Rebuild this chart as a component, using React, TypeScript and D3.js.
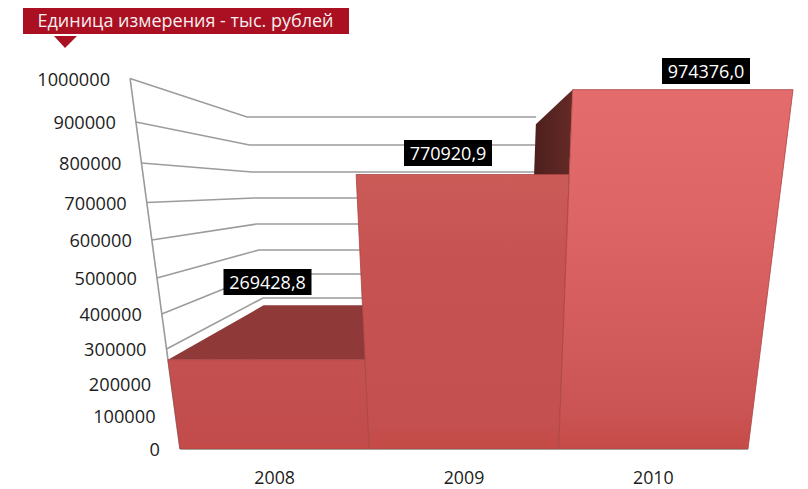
import React from "react";
import * as d3 from "d3";

const years = ["2008", "2009", "2010"];
const amounts = [269428.8, 770920.9, 974376.0];
const amountLabels = ["269428,8", "770920,9", "974376,0"];
const axisTicks = [0, 100000, 200000, 300000, 400000, 500000, 600000, 700000, 800000, 900000, 1000000];
const unitTitle = "Единица измерения - тыс. рублей";

const WIDTH = 808;
const HEIGHT = 489;
const FONT = "'Open Sans', sans-serif";

// Perspective projection: the front and back planes each have their own value scale.
const frontY = d3.scaleLinear().domain(axisTicks).range([449, 416, 384, 349, 314, 278, 240, 202.5, 163, 122, 78.5]);
const backY = d3.scaleLinear().domain(axisTicks).range([367, 345, 322, 298, 274, 250, 224, 198, 172, 145, 117]);

const frontLeft = d3.scaleLinear().domain([449, 78]).range([180, 130]);
const frontRight = d3.scaleLinear().domain([449, 90]).range([748, 793]);
const backLeft = d3.scaleLinear().domain([117, 298]).range([247, 263]);
const backRight = d3.scaleLinear().domain([124, 175]).range([680, 675]);

// x position of a category boundary (0..3) at a projected height on either plane.
const frontX = (slot: number, y: number) =>
  d3.scaleLinear().domain([0, 3]).range([frontLeft(y), frontRight(y)])(slot);
const backX = (slot: number, y: number) =>
  d3.scaleLinear().domain([0, 3]).range([backLeft(y), backRight(y)])(slot);

const front = (slot: number, v: number): [number, number] => [frontX(slot, frontY(v)), frontY(v)];
const back = (slot: number, v: number): [number, number] => [backX(slot, backY(v)), backY(v)];

const closed = d3.line().curve(d3.curveLinearClosed);
const open = d3.line();

const barFills = ["fill2008", "fill2009", "fill2010"];
const barStops: [string, string, string, string][] = [
  ["#c45050", "#c44f4f", "#c24c4c", "#c44a45"],
  ["#ca5b57", "#c65252", "#c45050", "#c44b45"],
  ["#e46c6c", "#de6565", "#ca5454", "#c64b47"],
];
const labelCentres: [number, number][] = [
  [267.5, 282],
  [448, 153],
  [706, 71],
];

export default function App() {
  const [v2008, v2009, v2010] = amounts;
  return (
    <svg
      width={WIDTH}
      height={HEIGHT}
      viewBox={`0 0 ${WIDTH} ${HEIGHT}`}
      style={{ position: "absolute", left: 0, top: 0, background: "#fff" }}
    >
      <defs>
        {barFills.map((id, i) => (
          <linearGradient key={id} id={id} gradientUnits="userSpaceOnUse" x1={0} x2={0} y1={frontY(amounts[i])} y2={449}>
            <stop offset="0" stopColor={barStops[i][0]} />
            <stop offset="0.35" stopColor={barStops[i][1]} />
            <stop offset="0.9" stopColor={barStops[i][2]} />
            <stop offset="1" stopColor={barStops[i][3]} />
          </linearGradient>
        ))}
        <linearGradient id="sideFill" x1="0" x2="1" y1="0" y2="0">
          <stop offset="0" stopColor="#4d1f1d" />
          <stop offset="1" stopColor="#642a26" />
        </linearGradient>
      </defs>

      {/* Unit banner */}
      <rect x={23} y={8} width={326} height={26} fill="#aa1021" />
      <path d="M54,36 L77,36 L65,48 Z" fill="#aa1021" />
      <text x={185.5} y={27} textAnchor="middle" fontFamily={FONT} fontSize={18} fill="#f6eef0">
        {unitTitle}
      </text>

      {/* Side wall and back wall gridlines */}
      {axisTicks.slice(1).map((t) => (
        <path
          key={t}
          d={open([
            [frontLeft(frontY(t)), frontY(t)],
            [backLeft(backY(t)), backY(t)],
            [backX(2, backY(t)), backY(t)],
          ]) as string}
          fill="none"
          stroke="#9c9c9c"
          strokeWidth={1.6}
        />
      ))}
      <path
        d={open([
          [frontLeft(frontY(1000000)), frontY(1000000)],
          [frontLeft(449), 449],
        ]) as string}
        fill="none"
        stroke="#9a9a9a"
        strokeWidth={1.6}
      />

      {/* Top of the 2008 bar */}
      <path d={closed([front(0, v2008), back(0, v2008), back(1, v2008), front(1, v2008)]) as string} fill="#8f3a38" />

      {/* Left side of the 2010 bar, visible above the 2009 bar */}
      <path d={closed([front(2, v2010), back(2, v2010), back(2, v2009), front(2, v2009)]) as string} fill="url(#sideFill)" />

      {/* Front faces */}
      {amounts.map((v, i) => (
        <path
          key={years[i]}
          d={closed([[frontX(i, 449), 449], front(i, v), front(i + 1, v), [frontX(i + 1, 449), 449]]) as string}
          fill={`url(#${barFills[i]})`}
          stroke="#a94444"
          strokeWidth={0.8}
        />
      ))}
      <path d={open([[180, 449.5], [748, 449.5]]) as string} fill="none" stroke="#aaa09e" strokeWidth={1.2} />

      {/* Value axis labels follow the slanted front edge */}
      {axisTicks.map((t) => (
        <text
          key={t}
          x={frontLeft(frontY(t)) - 20}
          y={frontY(t) + 7}
          textAnchor="end"
          fontFamily={FONT}
          fontSize={18.2}
          fill="#1c1c1c"
        >
          {t}
        </text>
      ))}

      {/* Category labels */}
      {years.map((year, i) => (
        <text
          key={year}
          x={(frontX(i, 449) + frontX(i + 1, 449)) / 2}
          y={483.8}
          textAnchor="middle"
          fontFamily={FONT}
          fontSize={17.8}
          fill="#1c1c1c"
        >
          {year}
        </text>
      ))}

      {/* Value callouts */}
      {amountLabels.map((label, i) => (
        <g key={label} transform={`translate(${labelCentres[i][0]},${labelCentres[i][1]})`}>
          <rect x={-44} y={-13} width={88} height={26} fill="#000" />
          <text y={6.5} textAnchor="middle" fontFamily={FONT} fontSize={18} fill="#fff">
            {label}
          </text>
        </g>
      ))}
    </svg>
  );
}
